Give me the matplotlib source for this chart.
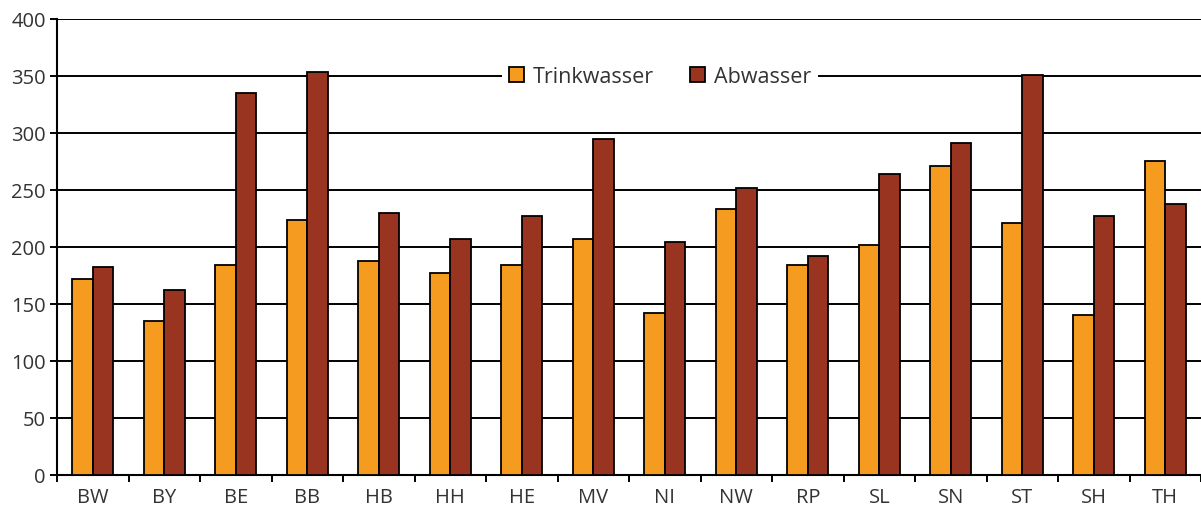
import numpy as np
import matplotlib
matplotlib.use('Agg')
import matplotlib.pyplot as plt

plt.rcParams['font.family'] = ['Open Sans', 'DejaVu Sans']

# Daten
laender = ['BW', 'BY', 'BE', 'BB', 'HB', 'HH', 'HE', 'MV',
           'NI', 'NW', 'RP', 'SL', 'SN', 'ST', 'SH', 'TH']
trinkwasser = [172, 135, 184, 224, 188, 177, 184, 207,
               142, 233, 184, 202, 271, 221, 140, 275]
abwasser = [182, 162, 335, 353, 230, 207, 227, 295,
            204, 252, 192, 264, 291, 351, 227, 238]

farbe_tw = '#F59B20'
farbe_aw = '#993420'
textfarbe = '#333333'

fig = plt.figure(figsize=(12.01, 5.10), dpi=100)
ax = fig.add_axes([0.0475, 0.0667, 0.9525, 0.8943])

x = np.arange(len(laender))
w = 0.287
ax.bar(x - w/2, trinkwasser, w, color=farbe_tw, edgecolor='black', linewidth=1.3,
       label='Trinkwasser', zorder=3)
ax.bar(x + w/2, abwasser, w, color=farbe_aw, edgecolor='black', linewidth=1.3,
       label='Abwasser', zorder=3)

ax.set_xlim(-0.5, len(laender) - 0.5)
ax.set_ylim(0, 400)
ax.set_yticks(np.arange(0, 401, 50))
ax.yaxis.grid(True, color='black', linewidth=1.4, zorder=0)
ax.set_axisbelow(True)

ax.set_xticks(x)
ax.set_xticklabels(laender)
ax.set_xticks(np.arange(-0.5, len(laender) - 0.4, 1), minor=True)
ax.tick_params(axis='x', which='major', length=0, pad=9, labelsize=14.5, labelcolor=textfarbe)
ax.tick_params(axis='x', which='minor', length=5, width=1.4, direction='out')
ax.tick_params(axis='y', length=5, width=1.4, labelsize=14.5, labelcolor=textfarbe, pad=3)

for s in ['top', 'right']:
    ax.spines[s].set_visible(False)
for s in ['left', 'bottom']:
    ax.spines[s].set_linewidth(1.5)

leg = ax.legend(loc='center', bbox_to_anchor=(0.527, 0.873), ncol=2, frameon=True,
                facecolor='white', edgecolor='none', framealpha=1, fancybox=False,
                fontsize=15.5, handlelength=0.7, handleheight=0.7, handletextpad=0.4,
                columnspacing=1.7, borderpad=0.3)
for t in leg.get_texts():
    t.set_color(textfarbe)
leg.set_zorder(5)

fig.savefig('out.png', dpi=100)
